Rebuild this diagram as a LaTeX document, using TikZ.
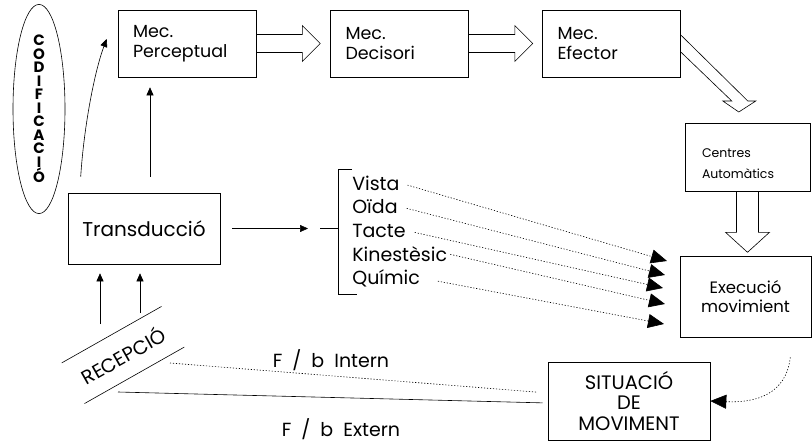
\documentclass[tikz,border=0pt]{standalone}
\usepackage{fontspec}
\setmainfont{Poppins}
\usetikzlibrary{arrows.meta,shapes.geometric}

\begin{document}
\begin{tikzpicture}[x=1pt,y=-1pt,line width=0.6pt]
\tikzstyle{every node}+=[inner sep=0pt]
\tikzstyle{mec}=[draw, minimum width=138pt, minimum height=67pt, text width=108pt, align=left, font=\fontsize{17.5}{19.5}\selectfont]
\tikzstyle{box}=[draw, align=center, font=\fontsize{17}{19}\selectfont]
\tikzstyle{sense}=[anchor=base west, font=\fontsize{19}{21}\selectfont]
\tikzstyle{tip}=[-{Triangle[length=8pt,width=7pt]}]
\tikzstyle{bigtip}=[-{Triangle[length=16pt,width=14pt]}]
\tikzstyle{dots}=[dash pattern=on 1.2pt off 1.8pt]
\useasboundingbox (0,0) rectangle (812,442);
% boxes
\node[mec] (perc) at (187,43.5) {Mec.\\Perceptual};
\node[mec] (deci) at (399.5,43.5) {Mec.\\Decisori};
\node[mec] (efec) at (611.5,43.5) {Mec.\\Efector};
\node[box, minimum width=152pt, minimum height=71pt, font=\fontsize{20}{22}\selectfont] (trans) at (144,228.5) {Transducció};
\node[draw, minimum width=125pt, minimum height=68pt, text width=91pt, align=left, font=\fontsize{12.5}{21}\selectfont] (cent) at (747.5,157) {\rule{0pt}{22pt}Centres\\Automàtics};
\node[box, minimum width=131pt, minimum height=81pt, font=\fontsize{16.5}{19}\selectfont] (exec) at (745.5,296.5) {Execució\\movimient};
\node[box, minimum width=162pt, minimum height=78pt, font=\fontsize{19.5}{20.5}\selectfont] (sit) at (629,401) {SITUACIÓ\\DE\\MOVIMENT};
\node[draw, ellipse, minimum width=52pt, minimum height=166pt, align=center, font=\fontsize{15}{13.5}\selectfont\bfseries] (cod) at (39,109) {C\\O\\D\\I\\F\\I\\C\\A\\C\\I\\Ó};
\node[rotate=29.5, minimum width=114pt, minimum height=46pt, font=\fontsize{19.5}{21}\selectfont] (recep) at (123,355) {RECEPCIÓ};
\draw (recep.north west) -- (recep.north east);
\draw (recep.south west) -- (recep.south east);
% senses
\node[sense] (vista) at (352,190) {Vista};
\node[sense] (oida) at (352,213) {Oïda};
\node[sense] (tacte) at (352,237) {Tacte};
\node[sense] (kine) at (352,261) {Kinestèsic};
\node[sense] (quim) at (352,284) {Químic};
\coordinate (brk) at (338,228.5);
\draw (352,169) -- (338,169) -- (338,294) -- (357,294);
\draw (brk) -- ++(-18,0);
% hollow arrows
\draw ([yshift=9pt]perc.east) -- ++(46,0) -- ++(0,-9) -- ++(18,18) -- ++(-18,18) -- ++(0,-9) -- ([yshift=-9pt]perc.east);
\draw ([yshift=9pt]deci.east) -- ++(46,0) -- ++(0,-9) -- ++(18,18) -- ++(-18,18) -- ++(0,-9) -- ([yshift=-9pt]deci.east);
\draw ([yshift=8.5pt]efec.east) -- ++(67,66) -- ++(8,0) -- ++(-17,11) -- ++(-16,-11) -- ++(9,0) -- ([yshift=-8.5pt]efec.east);
\draw ([xshift=-11pt]cent.south) -- ++(0,41) -- ++(-11,0) -- ++(22,20) -- ++(22,-20) -- ++(-11,0) -- ([xshift=11pt]cent.south);
% thin arrows
\draw[tip, shorten <=16pt, shorten >=10pt] ([xshift=6pt]trans.north) -- ([xshift=6pt]trans.north |- perc.south);
\draw[tip] ([xshift=13pt,yshift=16pt]trans.north west) .. controls (84,125) and (95,70) .. ([xshift=-11pt,yshift=4.5pt]perc.west);
\coordinate (r1) at (100,324);
\coordinate (r2) at (140,313);
\draw[tip, shorten >=9pt] (r1) -- (r1 |- trans.south);
\draw[tip, shorten >=9pt] (r2) -- (r2 |- trans.south);
\draw[tip, shorten <=12pt, shorten >=30pt] (trans.east) -- (brk);
% senses to execution
\coordinate (a1) at (667,261);
\coordinate (a2) at (665,275);
\coordinate (a3) at (663,288);
\coordinate (a4) at (665,304);
\coordinate (a5) at (664,324);
\draw[dots, bigtip, shorten <=8pt] (vista.east) -- (a1);
\draw[dots, bigtip, shorten <=9pt] (oida.east) -- (a2);
\draw[dots, bigtip, shorten <=9pt] (tacte.east) -- (a3);
\draw[dots, bigtip, shorten <=3pt] (kine.east) -- (a4);
\draw[dots, bigtip, shorten <=18pt] (quim.east) -- (a5);
% feedback
\coordinate (fi) at (170,363);
\coordinate (fe) at (118,392);
\draw[dots, shorten >=10pt] (fi) -- ([yshift=8pt]sit.west);
\draw[shorten >=5pt] (fe) -- ([yshift=-2pt]sit.west);
\node[font=\fontsize{19}{21}\selectfont] (fbi) at (331,360) {F\hspace{10pt}/\hspace{10pt}b\hspace{10pt}Intern};
\node[font=\fontsize{19}{21}\selectfont] (fbe) at (341,429) {F\hspace{10pt}/\hspace{10pt}b\hspace{10pt}Extern};
\coordinate (c1) at ([xshift=-21pt,yshift=-20pt]exec.south east);
\draw[dots, bigtip] (c1) .. controls (786,395) and (755,403) .. (sit.east);
\end{tikzpicture}
\end{document}
